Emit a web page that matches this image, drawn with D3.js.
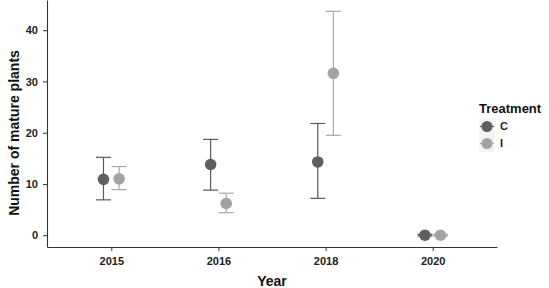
<!DOCTYPE html>
<html>
<head>
<meta charset="utf-8">
<script src="https://cdn.jsdelivr.net/npm/d3@7"></script>
<style>
  body { margin: 0; background: #fff; }
  text { font-family: "Liberation Sans", Arial, sans-serif; }
</style>
</head>
<body>
<svg width="549" height="288"></svg>
<script>
// Data
const years = ["2015", "2016", "2018", "2020"];
const treatments = ["C", "I"];
const meanC = [10.9, 13.8, 14.3, 0];
const lowC = [6.9, 8.8, 7.2, -0.15];
const highC = [15.2, 18.7, 21.8, 0.15];
const meanI = [11.0, 6.2, 31.6, 0];
const lowI = [8.9, 4.4, 19.5, -0.15];
const highI = [13.4, 8.2, 43.7, 0.15];
const yTicks = [0, 10, 20, 30, 40];

const svg = d3.select("svg");
const plotLeft = 47, plotRight = 497, plotTop = 0, plotBottom = 247;

const rows = [];
years.forEach((yr, i) => {
    rows.push({ year: yr, t: "C", mean: meanC[i], lo: lowC[i], hi: highC[i] });
    rows.push({ year: yr, t: "I", mean: meanI[i], lo: lowI[i], hi: highI[i] });
});

const x = d3.scalePoint().domain(years).range([plotLeft, plotRight]).padding(0.6);
const y = d3.scaleLinear().domain([-2.3, 45.9]).range([plotBottom, plotTop]);
const dodge = d3.scalePoint().domain(treatments).range([-7.8, 7.8]);

const pointColor = d3.scaleOrdinal().domain(treatments).range(["#5f5f5f", "#a3a3a3"]);
const barColor = d3.scaleOrdinal().domain(treatments).range(["#5a5a5a", "#a8a8a8"]);

// Axes
const xAxis = svg.append("g")
    .attr("transform", `translate(0,${plotBottom})`)
    .call(d3.axisBottom(x).tickSize(4).tickPadding(6).tickSizeOuter(0));
const yAxis = svg.append("g")
    .attr("transform", `translate(${plotLeft},0)`)
    .call(d3.axisLeft(y).tickValues(yTicks).tickSize(4).tickPadding(5).tickSizeOuter(0));

[xAxis, yAxis].forEach(a => {
    a.select(".domain").attr("stroke", "#333").attr("stroke-width", 1.1);
    a.selectAll(".tick line").attr("stroke", "#333");
    a.selectAll(".tick text")
        .attr("fill", "#222")
        .style("font-size", "11px")
        .style("font-weight", "bold")
        .style("font-family", "'Liberation Sans', Arial, sans-serif");
});

// Error bars
const eb = svg.append("g").selectAll("g").data(rows).enter().append("g")
    .attr("stroke", d => barColor(d.t))
    .attr("stroke-width", 1.2);
eb.append("line")
    .attr("x1", d => x(d.year) + dodge(d.t))
    .attr("x2", d => x(d.year) + dodge(d.t))
    .attr("y1", d => y(d.lo))
    .attr("y2", d => y(d.hi));
eb.append("line")
    .attr("x1", d => x(d.year) + dodge(d.t) - 7.5)
    .attr("x2", d => x(d.year) + dodge(d.t) + 7.5)
    .attr("y1", d => y(d.hi))
    .attr("y2", d => y(d.hi));
eb.append("line")
    .attr("x1", d => x(d.year) + dodge(d.t) - 7.5)
    .attr("x2", d => x(d.year) + dodge(d.t) + 7.5)
    .attr("y1", d => y(d.lo))
    .attr("y2", d => y(d.lo));

// Points
svg.append("g").selectAll("circle").data(rows).enter().append("circle")
    .attr("cx", d => x(d.year) + dodge(d.t))
    .attr("cy", d => y(d.mean))
    .attr("r", 5.8)
    .attr("fill", d => pointColor(d.t));

// Axis titles
svg.append("text")
    .attr("x", (plotLeft + plotRight) / 2)
    .attr("y", 286)
    .attr("text-anchor", "middle")
    .attr("font-size", "14px")
    .attr("font-weight", "bold")
    .attr("fill", "#111")
    .text("Year");

svg.append("text")
    .attr("transform", `translate(19,133) rotate(-90)`)
    .attr("text-anchor", "middle")
    .attr("font-size", "14px")
    .attr("font-weight", "bold")
    .attr("fill", "#111")
    .text("Number of mature plants");

// Legend
svg.append("text")
    .attr("x", 479)
    .attr("y", 113)
    .attr("font-size", "13px")
    .attr("font-weight", "bold")
    .attr("fill", "#111")
    .text("Treatment");

const legend = svg.selectAll(".legend").data(treatments).enter().append("g")
    .attr("transform", (d, i) => `translate(479,${118 + i * 17})`);
legend.append("rect")
    .attr("width", 16).attr("height", 17)
    .attr("fill", "#f4f4f4");
legend.append("line")
    .attr("x1", 1).attr("x2", 15).attr("y1", 8.5).attr("y2", 8.5)
    .attr("stroke", d => barColor(d)).attr("stroke-width", 1.2);
legend.append("circle")
    .attr("cx", 8).attr("cy", 8.5).attr("r", 5.5)
    .attr("fill", d => pointColor(d));
legend.append("text")
    .attr("x", 21).attr("y", 8.5).attr("dy", "0.35em")
    .attr("font-size", "11px")
    .attr("font-weight", "bold")
    .attr("fill", "#222")
    .text(d => d);
</script>
</body>
</html>
